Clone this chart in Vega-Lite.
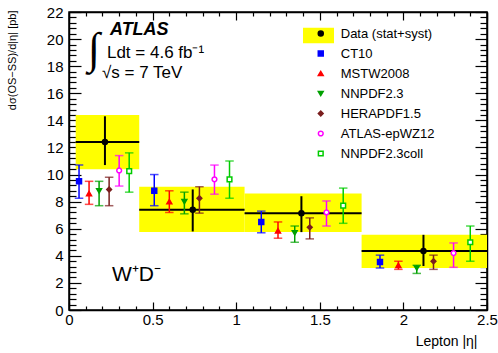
{
  "$schema": "https://vega.github.io/schema/vega-lite/v6.json",
  "width": 418,
  "height": 298,
  "autosize": {"type": "none"},
  "padding": {"left": 69, "top": 12, "right": 11, "bottom": 43},
  "background": "white",
  "config": {
    "view": {"stroke": "black", "strokeWidth": 1.5},
    "axis": {"domainColor": "black", "domainWidth": 1.5, "tickColor": "black", "tickWidth": 1.2, "labelColor": "black", "labelFont": "Liberation Sans", "labelFontSize": 15, "titleFont": "Liberation Sans", "titleFontWeight": "normal", "titleColor": "black", "grid": false, "labelOverlap": false, "labelFlush": false, "labelBound": false},
    "legend": {"orient": "none", "title": null, "padding": 0, "rowPadding": 6, "labelFont": "Liberation Sans", "labelFontSize": 13, "labelColor": "black", "labelLimit": 300, "symbolOpacity": 1},
    "text": {"font": "Liberation Sans", "color": "black"}
  },
  "datasets": {
    "bins": [
      {"xlo": 0.04, "xhi": 0.42, "y": 12.4, "ylo": 10.4, "yhi": 14.4},
      {"xlo": 0.42, "xhi": 1.05, "y": 7.4, "ylo": 5.75, "yhi": 9.1},
      {"xlo": 1.05, "xhi": 1.75, "y": 7.15, "ylo": 5.75, "yhi": 8.6},
      {"xlo": 1.75, "xhi": 2.5, "y": 4.35, "ylo": 3.1, "yhi": 5.55}
    ],
    "pts": [
      {"series": "Data (stat+syst)", "x": 0.215, "y": 12.4, "lo": 10.7, "hi": 14.3},
      {"series": "Data (stat+syst)", "x": 0.74, "y": 7.4, "lo": 5.8, "hi": 8.9},
      {"series": "Data (stat+syst)", "x": 1.39, "y": 7.15, "lo": 5.75, "hi": 8.4},
      {"series": "Data (stat+syst)", "x": 2.12, "y": 4.35, "lo": 3.25, "hi": 5.55},
      {"series": "CT10", "x": 0.06, "y": 9.5, "lo": 8.25, "hi": 10.7},
      {"series": "CT10", "x": 0.51, "y": 8.8, "lo": 7.7, "hi": 10.0},
      {"series": "CT10", "x": 1.15, "y": 6.5, "lo": 5.7, "hi": 7.3},
      {"series": "CT10", "x": 1.86, "y": 3.55, "lo": 3.1, "hi": 4.05},
      {"series": "MSTW2008", "x": 0.12, "y": 8.6, "lo": 7.8, "hi": 9.5},
      {"series": "MSTW2008", "x": 0.6, "y": 8.0, "lo": 7.2, "hi": 8.8},
      {"series": "MSTW2008", "x": 1.25, "y": 5.85, "lo": 5.3, "hi": 6.5},
      {"series": "MSTW2008", "x": 1.97, "y": 3.3, "lo": 3.0, "hi": 3.6},
      {"series": "NNPDF2.3", "x": 0.18, "y": 8.8, "lo": 7.7, "hi": 9.5},
      {"series": "NNPDF2.3", "x": 0.69, "y": 8.0, "lo": 7.1, "hi": 8.7},
      {"series": "NNPDF2.3", "x": 1.35, "y": 5.7, "lo": 5.0, "hi": 6.2},
      {"series": "NNPDF2.3", "x": 2.08, "y": 3.1, "lo": 2.7, "hi": 3.3},
      {"series": "HERAPDF1.5", "x": 0.24, "y": 8.9, "lo": 7.7, "hi": 9.8},
      {"series": "HERAPDF1.5", "x": 0.78, "y": 8.25, "lo": 7.15, "hi": 9.1},
      {"series": "HERAPDF1.5", "x": 1.44, "y": 6.1, "lo": 5.25, "hi": 6.8},
      {"series": "HERAPDF1.5", "x": 2.18, "y": 3.6, "lo": 3.0, "hi": 4.05},
      {"series": "ATLAS-epWZ12", "x": 0.3, "y": 10.3, "lo": 9.15, "hi": 11.4},
      {"series": "ATLAS-epWZ12", "x": 0.87, "y": 9.65, "lo": 8.55, "hi": 10.7},
      {"series": "ATLAS-epWZ12", "x": 1.54, "y": 7.2, "lo": 6.2, "hi": 8.05},
      {"series": "ATLAS-epWZ12", "x": 2.3, "y": 4.2, "lo": 3.15, "hi": 4.95},
      {"series": "NNPDF2.3coll", "x": 0.36, "y": 10.25, "lo": 8.7, "hi": 11.6},
      {"series": "NNPDF2.3coll", "x": 0.96, "y": 9.65, "lo": 8.25, "hi": 11.0},
      {"series": "NNPDF2.3coll", "x": 1.64, "y": 7.7, "lo": 6.4, "hi": 9.0},
      {"series": "NNPDF2.3coll", "x": 2.4, "y": 5.0, "lo": 3.6, "hi": 6.2}
    ]
  },
  "resolve": {"axis": {"x": "independent", "y": "independent"}},
  "layer": [
    {
      "data": {"name": "bins"},
      "mark": {"type": "rect"},
      "encoding": {
        "x": {"field": "xlo", "type": "quantitative", "scale": {"domain": [0, 2.5], "nice": false, "zero": false},
          "axis": {"orient": "bottom", "values": [0,0.1,0.2,0.3,0.4,0.5,0.6,0.7,0.8,0.9,1,1.1,1.2,1.3,1.4,1.5,1.6,1.7,1.8,1.9,2,2.1,2.2,2.3,2.4,2.5],
            "tickSize": {"condition": {"test": "abs(datum.value*2-round(datum.value*2))<0.001", "value": -8}, "value": -4},
            "labelExpr": "abs(datum.value*2-round(datum.value*2))<0.001 ? ''+datum.value : ''",
            "labelPadding": 10,
            "title": "Lepton |η|", "titleFontSize": 14, "titleX": 408, "titleY": 31, "titleAlign": "right", "titleBaseline": "middle", "titleAnchor": "end"}},
        "x2": {"field": "xhi"},
        "y": {"field": "ylo", "type": "quantitative", "scale": {"domain": [0, 22], "nice": false, "zero": false},
          "axis": {"orient": "left", "values": [0,0.4,0.8,1.2,1.6,2,2.4,2.8,3.2,3.6,4,4.4,4.8,5.2,5.6,6,6.4,6.8,7.2,7.6,8,8.4,8.8,9.2,9.6,10,10.4,10.8,11.2,11.6,12,12.4,12.8,13.2,13.6,14,14.4,14.8,15.2,15.6,16,16.4,16.8,17.2,17.6,18,18.4,18.8,19.2,19.6,20,20.4,20.8,21.2,21.6,22],
            "tickSize": {"condition": {"test": "abs(datum.value/2-round(datum.value/2))<0.001", "value": -12}, "value": -7},
            "labelExpr": "abs(datum.value/2-round(datum.value/2))<0.001 ? ''+round(datum.value) : ''",
            "labelPadding": 18,
            "title": "dσ(OS−SS)/d|η| [pb]", "titleFontSize": 11, "titleX": -57, "titleY": -2, "titleAngle": 270, "titleAlign": "right", "titleBaseline": "middle"}},
        "y2": {"field": "yhi"},
        "color": {"datum": "Data (stat+syst)", "scale": {"range": ["#ffff00"]},
          "legend": {"legendX": 234, "legendY": 8, "symbolType": "M-1,-0.5H1V0.5H-1Z", "symbolSize": 961, "symbolStrokeWidth": 0, "labelFontSize": 0, "labelExpr": "''", "labelOffset": 0, "zindex": 0}}
      }
    },
    {
      "data": {"name": "bins"},
      "mark": {"type": "rule", "color": "black", "strokeWidth": 2},
      "encoding": {
        "x": {"field": "xlo", "type": "quantitative",
          "axis": {"orient": "top", "values": [0,0.1,0.2,0.3,0.4,0.5,0.6,0.7,0.8,0.9,1,1.1,1.2,1.3,1.4,1.5,1.6,1.7,1.8,1.9,2,2.1,2.2,2.3,2.4,2.5],
            "tickSize": {"condition": {"test": "abs(datum.value*2-round(datum.value*2))<0.001", "value": -8}, "value": -4},
            "labels": false, "title": null}},
        "x2": {"field": "xhi"},
        "y": {"field": "y", "type": "quantitative",
          "axis": {"orient": "right", "values": [0,0.4,0.8,1.2,1.6,2,2.4,2.8,3.2,3.6,4,4.4,4.8,5.2,5.6,6,6.4,6.8,7.2,7.6,8,8.4,8.8,9.2,9.6,10,10.4,10.8,11.2,11.6,12,12.4,12.8,13.2,13.6,14,14.4,14.8,15.2,15.6,16,16.4,16.8,17.2,17.6,18,18.4,18.8,19.2,19.6,20,20.4,20.8,21.2,21.6,22],
            "tickSize": {"condition": {"test": "abs(datum.value/2-round(datum.value/2))<0.001", "value": -12}, "value": -7},
            "labels": false, "title": null}}
      }
    },
    {
      "data": {"name": "pts"},
      "transform": [{"filter": "datum.series !== 'Data (stat+syst)'"}],
      "mark": {"type": "rule", "strokeWidth": 1.5},
      "encoding": {
        "x": {"field": "x", "type": "quantitative", "axis": null},
        "y": {"field": "lo", "type": "quantitative", "axis": null},
        "y2": {"field": "hi"},
        "stroke": {"field": "series", "type": "nominal"}
      }
    },
    {
      "data": {"name": "pts"},
      "transform": [{"filter": "datum.series !== 'Data (stat+syst)'"}],
      "mark": {"type": "tick", "orient": "horizontal", "size": 7, "thickness": 0.01, "filled": false, "strokeWidth": 1.5},
      "encoding": {
        "x": {"field": "x", "type": "quantitative", "axis": null},
        "y": {"field": "lo", "type": "quantitative", "axis": null},
        "stroke": {"field": "series", "type": "nominal"}
      }
    },
    {
      "data": {"name": "pts"},
      "transform": [{"filter": "datum.series !== 'Data (stat+syst)'"}],
      "mark": {"type": "tick", "orient": "horizontal", "size": 7, "thickness": 0.01, "filled": false, "strokeWidth": 1.5},
      "encoding": {
        "x": {"field": "x", "type": "quantitative", "axis": null},
        "y": {"field": "hi", "type": "quantitative", "axis": null},
        "stroke": {"field": "series", "type": "nominal"}
      }
    },
    {
      "data": {"name": "pts"},
      "transform": [{"filter": "datum.series === 'Data (stat+syst)'"}],
      "mark": {"type": "rule", "color": "black", "strokeWidth": 2},
      "encoding": {
        "x": {"field": "x", "type": "quantitative", "axis": null},
        "y": {"field": "lo", "type": "quantitative", "axis": null},
        "y2": {"field": "hi"}
      }
    },
    {
      "data": {"name": "pts"},
      "mark": {"type": "point", "strokeWidth": 1.5, "opacity": 1},
      "encoding": {
        "x": {"field": "x", "type": "quantitative", "axis": null},
        "y": {"field": "y", "type": "quantitative", "axis": null},
        "shape": {"field": "series", "type": "nominal",
          "scale": {"domain": ["Data (stat+syst)", "CT10", "MSTW2008", "NNPDF2.3", "HERAPDF1.5", "ATLAS-epWZ12", "NNPDF2.3coll"], "range": ["circle", "square", "triangle-up", "triangle-down", "diamond", "circle", "square"]},
          "legend": {"legendX": 234, "legendY": 15, "symbolOffset": 11.25, "labelOffset": 13.5, "symbolStrokeWidth": 1.5, "zindex": 1}},
        "fill": {"field": "series", "type": "nominal",
          "scale": {"domain": ["Data (stat+syst)", "CT10", "MSTW2008", "NNPDF2.3", "HERAPDF1.5", "ATLAS-epWZ12", "NNPDF2.3coll"], "range": ["black", "#0000ff", "#ff0000", "#00a000", "#7a1e1e", "white", "white"]}},
        "stroke": {"field": "series", "type": "nominal",
          "scale": {"domain": ["Data (stat+syst)", "CT10", "MSTW2008", "NNPDF2.3", "HERAPDF1.5", "ATLAS-epWZ12", "NNPDF2.3coll"], "range": ["black", "#0000ff", "#ff0000", "#00a000", "#7a1e1e", "#ff00ff", "#00cc00"]}},
        "size": {"field": "series", "type": "nominal",
          "scale": {"domain": ["Data (stat+syst)", "CT10", "MSTW2008", "NNPDF2.3", "HERAPDF1.5", "ATLAS-epWZ12", "NNPDF2.3coll"], "range": [25, 22, 22, 22, 22, 30, 40]}}
      }
    },
    {
      "data": {"values": [{"t": "ATLAS"}]},
      "mark": {"type": "text", "align": "left", "baseline": "middle", "fontSize": 18, "fontWeight": "bold", "fontStyle": "italic"},
      "encoding": {"x": {"datum": 0.245, "type": "quantitative", "axis": null}, "y": {"datum": 20.66, "type": "quantitative", "axis": null}, "text": {"field": "t"}}
    },
    {
      "data": {"values": [{"t": "∫"}]},
      "mark": {"type": "text", "align": "center", "baseline": "middle", "fontSize": 44, "font": "Liberation Serif"},
      "encoding": {"x": {"datum": 0.15, "type": "quantitative", "axis": null}, "y": {"datum": 19.2, "type": "quantitative", "axis": null}, "text": {"field": "t"}}
    },
    {
      "data": {"values": [{"t": "Ldt = 4.6 fb⁻¹"}]},
      "mark": {"type": "text", "align": "left", "baseline": "middle", "fontSize": 17},
      "encoding": {"x": {"datum": 0.227, "type": "quantitative", "axis": null}, "y": {"datum": 18.97, "type": "quantitative", "axis": null}, "text": {"field": "t"}}
    },
    {
      "data": {"values": [{"t": "√s = 7 TeV"}]},
      "mark": {"type": "text", "align": "left", "baseline": "middle", "fontSize": 17},
      "encoding": {"x": {"datum": 0.197, "type": "quantitative", "axis": null}, "y": {"datum": 17.5, "type": "quantitative", "axis": null}, "text": {"field": "t"}}
    },
    {
      "data": {"values": [{"t": "W⁺D⁻"}]},
      "mark": {"type": "text", "align": "left", "baseline": "middle", "fontSize": 21},
      "encoding": {"x": {"datum": 0.257, "type": "quantitative", "axis": null}, "y": {"datum": 2.58, "type": "quantitative", "axis": null}, "text": {"field": "t"}}
    }
  ]
}
